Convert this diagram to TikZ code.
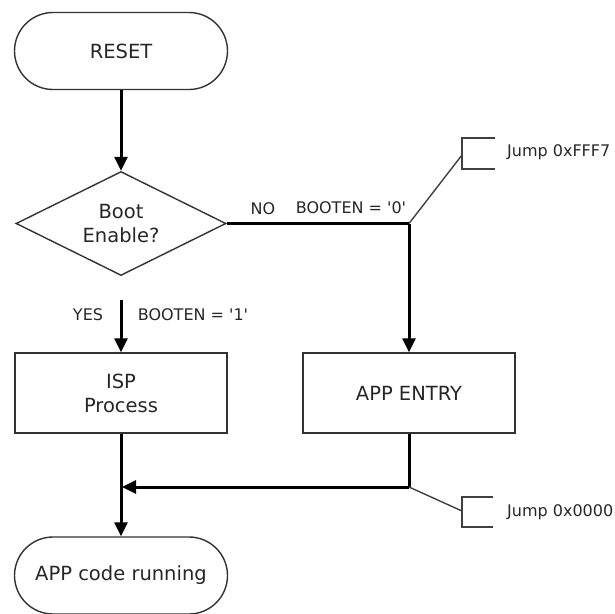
\documentclass[tikz,border=0pt]{standalone}
\usepackage{fontspec}
\setmainfont{DejaVu Sans}
\usetikzlibrary{arrows.meta,shapes.geometric,shapes.misc}
\begin{document}
\begin{tikzpicture}[x=1pt,y=-1pt,
  shapeline/.style={draw=black!80, line width=1.4pt, text=black!85, font=\fontsize{19.5}{24}\selectfont, align=center},
  term/.style={shapeline, rounded rectangle, minimum width=213pt, minimum height=77pt, inner sep=0pt},
  proc/.style={shapeline, rectangle, minimum width=212pt, minimum height=80pt, inner sep=0pt},
  decision/.style={shapeline, diamond, minimum width=210pt, minimum height=104pt, inner sep=0pt, aspect=2},
  flow/.style={line width=3pt, -{Triangle[length=14pt,width=13pt]}},
  plain/.style={line width=3pt},
  lead/.style={line width=1.4pt, draw=black!75},
  lbl/.style={font=\fontsize{16}{19}\selectfont, text=black!85, inner sep=0pt}
]
\useasboundingbox (0,0) rectangle (615,613);

\node[term] (reset) at (121,51) {RESET};
\node[decision] (dec) at (121,223.5) {Boot\\Enable?};
\node[proc] (isp) at (121,393) {ISP\\Process};
\node[proc] (entry) at (409,393) {APP ENTRY};
\node[term] (run) at (121,575.5) {APP code running};

\coordinate (j1) at (409,223.5);
\coordinate (j2) at (409,487);
\coordinate (m) at (122,487);
\coordinate (yesstart) at (121,300);

\draw[flow] (reset.south) -- (dec.north);
\draw[plain] (dec.east) -- (j1);
\draw[flow] (j1) -- (entry.north);
\draw[flow] (yesstart) -- (isp.north);
\draw[flow] (isp.south) -- (run.north);
\draw[plain] (entry.south) -- (j2);
\draw[flow] (j2) -- (m);

\node[lbl] (no) at (263,209) {NO};
\node[lbl] (b0) at (351,208) {BOOTEN = \textquotesingle0\textquotesingle};
\node[lbl] (yes) at (88,315) {YES};
\node[lbl] (b1) at (193,315) {BOOTEN = \textquotesingle1\textquotesingle};

% top bracket annotation
\coordinate (ba) at (462,155);
\coordinate (bat) at (462,138);
\coordinate (bab) at (462,169);
\coordinate (bate) at (495,138);
\coordinate (babe) at (495,169);
\draw[lead] (j1) -- (ba);
\draw[lead] (bate) -- (bat) -- (bab) -- (babe);
\node[lbl, anchor=west] (jf) at (507,152) {Jump 0xFFF7};

% bottom bracket annotation
\coordinate (bb) at (462,511);
\coordinate (bbt) at (462,497);
\coordinate (bbb) at (462,527);
\coordinate (bbte) at (493,497);
\coordinate (bbbe) at (493,527);
\draw[lead] (j2) -- (bb);
\draw[lead] (bbte) -- (bbt) -- (bbb) -- (bbbe);
\node[lbl, anchor=west] (j0) at (507,512) {Jump 0x0000};
\end{tikzpicture}
\end{document}
